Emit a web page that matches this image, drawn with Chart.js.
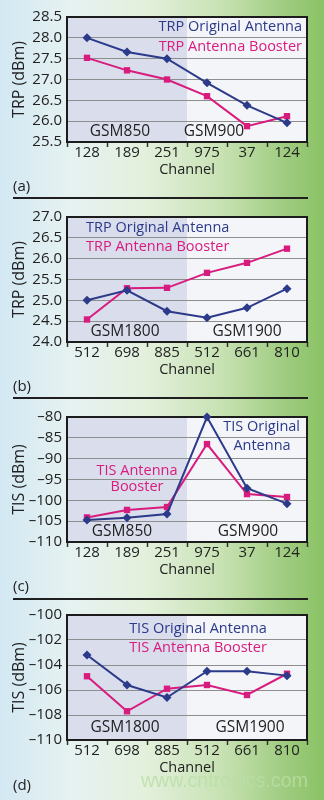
<!DOCTYPE html>
<html>
<head>
<meta charset="utf-8">
<script src="https://cdn.jsdelivr.net/npm/chart.js@4"></script>
<style>
  html, body { margin: 0; padding: 0; }
  body {
    width: 324px; height: 800px; position: relative; overflow: hidden;
    font-family: "Open Sans", sans-serif;
    background: linear-gradient(to right, #d3e8f3 0%, #e6f2f1 22%, #e3f0dc 45%, #c8e2b4 68%, #9fcc80 88%, #8ac264 100%);
  }
  .panel { position: absolute; left: 0; width: 324px; height: 200px; }
  .tag { position: absolute; left: 13px; font-size: 15px; color: #222; line-height: 16px; }
  .sep { position: absolute; left: 13px; width: 295px; height: 2px; background: #1f1f1f; }
  .mark { position: absolute; left: 141px; top: 769px; font-family: "Liberation Sans", Arial, sans-serif; font-size: 19.5px; color: rgba(185, 222, 165, 0.8); white-space: nowrap; }
</style>
</head>
<body>
<canvas id="chartA" class="panel" width="324" height="200" style="top:0px"></canvas>
<canvas id="chartB" class="panel" width="324" height="200" style="top:200px"></canvas>
<canvas id="chartC" class="panel" width="324" height="200" style="top:400px"></canvas>
<canvas id="chartD" class="panel" width="324" height="200" style="top:598px"></canvas>
<div class="tag" style="top:177px">(a)</div>
<div class="sep" style="top:197px"></div>
<div class="tag" style="top:377px">(b)</div>
<div class="sep" style="top:397px"></div>
<div class="tag" style="top:577px">(c)</div>
<div class="sep" style="top:598px"></div>
<div class="tag" style="top:776px">(d)</div>
<div class="mark">www.cntronics.com</div>
<script>
    // 通道标签
    const channelsLow = ['128', '189', '251', '975', '37', '124'];
    const channelsHigh = ['512', '698', '885', '512', '661', '810'];

    // (a) TRP GSM850 / GSM900
    const trpLowOriginal = [28.0, 27.66, 27.5, 26.92, 26.38, 25.96];
    const trpLowBooster = [27.52, 27.22, 27.0, 26.6, 25.88, 26.12];

    // (b) TRP GSM1800 / GSM1900
    const trpHighOriginal = [25.0, 25.24, 24.74, 24.58, 24.82, 25.28];
    const trpHighBooster = [24.54, 25.29, 25.3, 25.66, 25.9, 26.24];

    // (c) TIS GSM850 / GSM900
    const tisLowOriginal = [-104.7, -104.2, -103.3, -80.0, -97.1, -100.8];
    const tisLowBooster = [-104.1, -102.3, -101.6, -86.5, -98.5, -99.2];

    // (d) TIS GSM1800 / GSM1900
    const tisHighOriginal = [-103.2, -105.6, -106.6, -104.5, -104.5, -104.85];
    const tisHighBooster = [-104.9, -107.7, -105.9, -105.6, -106.4, -104.7];

    const NAVY = '#2c3a8a';
    const MAGENTA = '#d81c7e';
    const FONT = '"Open Sans", sans-serif';

    // 绘图区背景、边框和文字注释
    const panelPlugin = {
        id: 'panelDecor',
        beforeDraw(chart) {
            const { ctx, chartArea: a, scales } = chart;
            const mid = scales.x.getPixelForValue(2.5);
            ctx.save();
            ctx.fillStyle = '#d9ddec';
            ctx.fillRect(a.left, a.top, mid - a.left, a.bottom - a.top);
            ctx.fillStyle = '#f3f5f9';
            ctx.fillRect(mid, a.top, a.right - mid, a.bottom - a.top);
            ctx.restore();
        },
        beforeDatasetsDraw(chart, args, opts) {
            const { ctx, chartArea: a } = chart;
            ctx.save();
            ctx.strokeStyle = '#1c1c1c';
            ctx.lineWidth = 2;
            ctx.strokeRect(a.left, a.top, a.right - a.left, a.bottom - a.top);
            ctx.textBaseline = 'middle';
            (opts.notes || []).forEach(n => {
                ctx.font = (n.size || 14.5) + 'px ' + FONT;
                ctx.fillStyle = n.color;
                ctx.textAlign = n.align || 'center';
                ctx.fillText(n.text, a.left + n.dx, a.top + n.dy);
            });
            ctx.restore();
        }
    };

    function makePanel(id, labels, original, booster, yMin, yMax, yStep, yTitle, fmt, notes) {
        const ctx = document.getElementById(id).getContext('2d');
        return new Chart(ctx, {
            type: 'line',
            data: {
                labels: labels,
                datasets: [
                    {
                        label: 'Original',
                        data: original,
                        borderColor: NAVY,
                        backgroundColor: NAVY,
                        borderWidth: 2,
                        pointStyle: 'rectRot',
                        pointRadius: 4.5,
                        pointBorderWidth: 0,
                        tension: 0
                    },
                    {
                        label: 'Booster',
                        data: booster,
                        borderColor: MAGENTA,
                        backgroundColor: MAGENTA,
                        borderWidth: 2,
                        pointStyle: 'rect',
                        pointRadius: 4.5,
                        pointBorderWidth: 0,
                        tension: 0
                    }
                ]
            },
            options: {
                responsive: false,
                animation: false,
                clip: false,
                layout: { padding: { top: 17, right: 17, bottom: 18, left: 0 } },
                plugins: {
                    legend: { display: false },
                    tooltip: { enabled: false },
                    panelDecor: { notes: notes }
                },
                scales: {
                    x: {
                        offset: true,
                        afterFit(scale) { scale.height = 40; },
                        grid: {
                            offset: true,
                            drawOnChartArea: false,
                            drawTicks: true,
                            tickLength: 5,
                            tickWidth: 1.5,
                            tickColor: '#333'
                        },
                        border: { display: false },
                        ticks: { color: '#222', padding: -3, autoSkip: false, maxRotation: 0, font: { family: FONT, size: 15 } },
                        title: {
                            display: true,
                            text: 'Channel',
                            color: '#222',
                            padding: { top: 0, bottom: 3 },
                            font: { family: FONT, size: 14.5 }
                        }
                    },
                    y: {
                        min: yMin,
                        max: yMax,
                        afterFit(scale) { scale.width = 67; },
                        grid: { color: '#8e8e8e', lineWidth: 1, drawTicks: false },
                        border: { display: false },
                        ticks: {
                            stepSize: yStep,
                            autoSkip: false,
                            padding: 5,
                            color: '#222',
                            font: { family: FONT, size: 15 },
                            callback: fmt
                        },
                        title: {
                            display: true,
                            text: yTitle,
                            color: '#222',
                            padding: { top: 10, bottom: 0 },
                            font: { family: FONT, size: 16 }
                        }
                    }
                }
            },
            plugins: [panelPlugin]
        });
    }

    const fmtOne = v => v.toFixed(1);
    const fmtInt = v => (v < 0 ? '\u2013' + Math.abs(v) : String(v));

    makePanel('chartA', channelsLow, trpLowOriginal, trpLowBooster, 25.5, 28.5, 0.5, 'TRP (dBm)', fmtOne, [
        { text: 'TRP Original Antenna', color: NAVY, dx: 235, dy: 10, align: 'right' },
        { text: 'TRP Antenna Booster', color: MAGENTA, dx: 235, dy: 30, align: 'right' },
        { text: 'GSM850', color: '#222', dx: 53, dy: 115, size: 15.5 },
        { text: 'GSM900', color: '#222', dx: 147, dy: 115, size: 15.5 }
    ]);

    makePanel('chartB', channelsHigh, trpHighOriginal, trpHighBooster, 24.0, 27.0, 0.5, 'TRP (dBm)', fmtOne, [
        { text: 'TRP Original Antenna', color: NAVY, dx: 19, dy: 11, align: 'left' },
        { text: 'TRP Antenna Booster', color: MAGENTA, dx: 19, dy: 30, align: 'left' },
        { text: 'GSM1800', color: '#222', dx: 58, dy: 115, size: 15.5 },
        { text: 'GSM1900', color: '#222', dx: 180, dy: 115, size: 15.5 }
    ]);

    makePanel('chartC', channelsLow, tisLowOriginal, tisLowBooster, -110, -80, 5, 'TIS (dBm)', fmtInt, [
        { text: 'TIS Original', color: NAVY, dx: 233, dy: 10, align: 'right' },
        { text: 'Antenna', color: NAVY, dx: 195, dy: 29 },
        { text: 'TIS Antenna', color: MAGENTA, dx: 70, dy: 54 },
        { text: 'Booster', color: MAGENTA, dx: 70, dy: 70 },
        { text: 'GSM850', color: '#222', dx: 55, dy: 115, size: 15.5 },
        { text: 'GSM900', color: '#222', dx: 181, dy: 115, size: 15.5 }
    ]);

    makePanel('chartD', channelsHigh, tisHighOriginal, tisHighBooster, -110, -100, 2, 'TIS (dBm)', fmtInt, [
        { text: 'TIS Original Antenna', color: NAVY, dx: 131, dy: 14 },
        { text: 'TIS Antenna Booster', color: MAGENTA, dx: 131, dy: 33 },
        { text: 'GSM1800', color: '#222', dx: 58, dy: 113, size: 15.5 },
        { text: 'GSM1900', color: '#222', dx: 183, dy: 113, size: 15.5 }
    ]);
</script>
</body>
</html>
